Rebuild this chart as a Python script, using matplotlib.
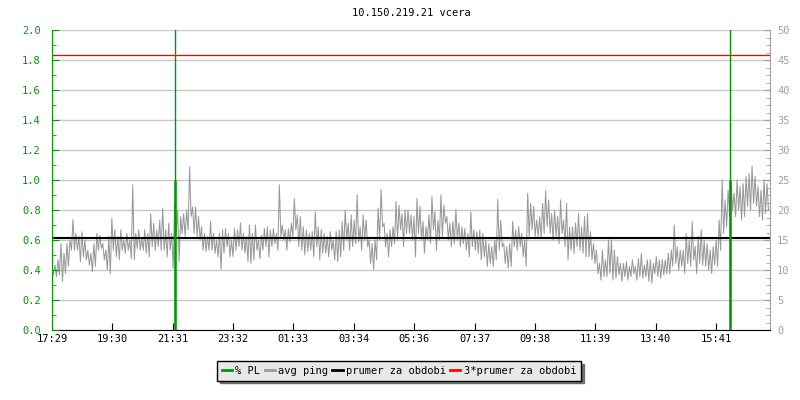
import numpy as np
import matplotlib
matplotlib.use("Agg")
import matplotlib.pyplot as plt
from matplotlib.ticker import MultipleLocator
from matplotlib.lines import Line2D

# =========================
# data
# =========================

title = "10.150.219.21 vcera"

tick_minutes = [0, 121, 242, 363, 484, 605, 727, 848, 969, 1090, 1211, 1332]
tick_labels = ["17:29", "19:30", "21:31", "23:32", "01:33", "03:34",
               "05:36", "07:37", "09:38", "11:39", "13:40", "15:41"]

column_step = 6  # minutes per column of the graph

# avg ping [ms]: upper and lower value in each 6-minute column
ping_hi = [
    10.5, 10.8, 11.7, 14.4, 12.8, 14.4, 15.0, 18.4, 16.1, 15.6,
    16.4, 15.0, 13.3, 12.8, 14.4, 16.1, 15.8, 14.4, 13.3, 15.6,
    18.6, 16.7, 15.6, 16.7, 15.0, 16.1, 15.0, 24.2, 16.1, 16.7,
    15.3, 16.7, 16.1, 19.4, 17.8, 16.7, 18.3, 20.3, 16.7, 17.8,
    16.1, 21.1, 20.0, 18.9, 19.4, 20.0, 27.2, 20.5, 20.5, 18.9,
    17.2, 16.1, 15.6, 18.1, 16.1, 15.0, 16.1, 16.7, 16.9, 16.1,
    15.0, 16.9, 16.7, 17.8, 16.1, 15.6, 17.5, 16.1, 17.5, 15.0,
    15.8, 16.9, 17.2, 16.7, 16.9, 16.1, 24.2, 17.5, 16.7, 16.9,
    17.8, 21.9, 19.2, 18.9, 17.2, 16.7, 16.1, 16.4, 19.7, 17.2,
    16.7, 16.1, 15.6, 16.4, 15.0, 16.4, 16.7, 18.1, 20.0, 17.8,
    19.2, 18.3, 22.5, 17.2, 19.2, 18.3, 15.0, 14.4, 15.0, 20.3,
    23.4, 17.8, 16.1, 16.7, 17.2, 21.4, 20.8, 19.4, 20.0, 20.0,
    19.2, 18.9, 21.9, 20.6, 18.1, 17.2, 19.2, 22.2, 19.7, 18.3,
    22.5, 20.8, 18.9, 17.8, 18.1, 20.1, 17.8, 17.2, 16.9, 16.1,
    19.7, 16.7, 16.4, 16.7, 16.1, 15.0, 14.4, 13.9, 15.0, 21.8,
    18.3, 14.4, 13.9, 14.4, 18.1, 16.7, 17.2, 16.1, 15.0, 22.8,
    21.1, 20.6, 18.3, 18.9, 21.1, 23.2, 21.7, 19.4, 20.0, 18.9,
    21.7, 18.3, 21.1, 17.2, 17.2, 17.8, 19.4, 17.2, 18.9, 19.4,
    16.4, 14.4, 13.3, 11.1, 13.3, 11.7, 15.0, 15.0, 13.3, 12.2,
    11.1, 11.1, 11.4, 10.6, 11.7, 10.6, 11.9, 12.8, 10.8, 11.7,
    11.7, 11.1, 12.2, 11.7, 11.7, 11.7, 12.8, 13.3, 17.5, 13.9,
    13.3, 13.3, 16.1, 15.0, 18.1, 13.9, 15.6, 16.7, 15.0, 14.4,
    13.3, 13.9, 15.0, 18.3, 25.0, 21.7, 23.3, 24.4, 22.8, 25.0,
    23.9, 24.4, 25.6, 26.1, 27.3, 25.6, 23.9, 23.3, 25.0, 24.4,
]
ping_lo = [
    9.2, 8.9, 9.2, 8.1, 9.4, 10.6, 13.3, 13.3, 13.3, 11.4,
    12.2, 11.7, 10.8, 9.7, 10.6, 13.3, 13.6, 11.7, 10.0, 9.4,
    13.3, 12.2, 11.7, 13.3, 12.8, 13.3, 11.9, 11.7, 13.6, 13.3,
    13.3, 12.8, 12.2, 13.9, 13.3, 13.9, 13.3, 13.3, 12.2, 13.3,
    10.3, 16.1, 11.4, 16.1, 15.6, 16.7, 18.9, 16.1, 15.6, 15.0,
    13.3, 13.1, 13.3, 13.3, 12.8, 12.2, 10.1, 12.8, 13.9, 12.2,
    12.2, 13.3, 13.9, 13.3, 12.8, 11.4, 11.1, 11.7, 13.3, 11.9,
    13.3, 13.9, 12.2, 13.9, 14.4, 13.3, 15.6, 15.0, 13.3, 14.7,
    15.6, 16.7, 13.9, 13.3, 12.5, 13.1, 13.3, 12.2, 13.9, 11.7,
    12.8, 12.8, 12.2, 13.3, 11.7, 11.4, 12.2, 13.3, 15.0, 13.3,
    13.9, 14.4, 14.7, 13.3, 15.0, 13.9, 11.1, 10.1, 11.7, 15.0,
    17.2, 13.9, 12.2, 13.9, 14.4, 15.0, 16.7, 13.9, 16.1, 16.1,
    15.0, 12.2, 16.1, 15.0, 12.8, 15.0, 14.4, 16.7, 13.3, 15.0,
    15.6, 17.8, 15.0, 13.9, 14.4, 15.0, 13.9, 14.4, 13.3, 12.2,
    13.9, 13.3, 12.8, 11.7, 12.2, 10.6, 11.1, 10.6, 11.7, 13.3,
    13.9, 11.1, 10.3, 10.6, 13.9, 13.3, 13.9, 12.2, 10.6, 15.6,
    16.7, 15.6, 15.6, 15.3, 16.1, 17.2, 16.1, 15.0, 15.6, 14.4,
    16.1, 13.9, 11.7, 13.3, 12.8, 13.9, 13.3, 12.8, 12.2, 12.2,
    11.7, 11.1, 9.4, 8.3, 8.9, 8.9, 9.4, 8.3, 8.6, 9.2,
    8.1, 8.9, 8.3, 8.9, 9.4, 8.3, 8.9, 8.6, 8.9, 8.1,
    7.8, 9.4, 8.9, 8.6, 9.2, 9.4, 9.4, 10.6, 11.1, 10.0,
    10.6, 9.4, 11.1, 10.6, 11.7, 9.4, 11.1, 10.8, 10.6, 10.0,
    9.4, 10.8, 10.6, 13.3, 16.1, 17.2, 18.9, 20.0, 18.9, 20.0,
    18.3, 18.9, 20.6, 20.0, 21.1, 20.6, 18.9, 18.3, 19.4, 20.0,
]

ping_mean = 15.3  # prumer za obdobi [ms]

# packet loss [%], two events
pl_minutes = [246, 1359]
pl_values = [1.0, 1.0]

# =========================
# colours
# =========================

green = "#009900"
grey_line = "#999999"
grey_axis = "#a0a0a0"
grid_col = "#c8c8c8"

plt.rcParams["font.family"] = ["DejaVu Sans Mono"]
plt.rcParams["font.size"] = 7.5

fig = plt.figure(figsize=(8, 4), dpi=100)
ax2 = fig.add_axes([52 / 800, 70 / 400, 718 / 800, 300 / 400])
ax = ax2.twinx()
ax.set_zorder(ax2.get_zorder() + 1)
ax.patch.set_visible(False)

# hi / lo samples interleaved -> spiky trace
ping = np.column_stack([ping_hi, ping_lo]).ravel()
t = np.arange(len(ping)) * column_step / 2

# avg ping on right axis
ax2.plot(t, ping, color=grey_line, lw=0.75)
ax2.axhline(ping_mean, color="black", lw=1.5)
ax2.axhline(3 * ping_mean, color="red", lw=0.9)
ax2.set_ylim(0, 50)
ax2.set_xlim(0, 1440)
ax2.yaxis.set_major_locator(MultipleLocator(5))
ax2.yaxis.set_minor_locator(MultipleLocator(1.25))
ax2.grid(axis="y", color=grid_col, lw=1)
ax2.set_axisbelow(True)

# packet loss on left axis
for m, v in zip(pl_minutes, pl_values):
    ax.axvline(m, color=green, lw=1.0)
    ax.vlines(m, 0, v, color=green, lw=1.8)
ax.set_ylim(0, 2)
ax.yaxis.set_minor_locator(MultipleLocator(0.1))

# PL left, ping right
ax.yaxis.tick_left()
ax2.yaxis.tick_right()

ax.set_yticks(np.arange(0, 2.01, 0.2))
ax.set_yticklabels([f"{v:.1f}" for v in np.arange(0, 2.01, 0.2)])
ax2.set_yticks(np.arange(0, 51, 5))

ax.tick_params(axis="y", which="both", direction="in", colors=green,
               labelcolor=green, pad=8)
ax.tick_params(axis="y", which="major", length=5)
ax.tick_params(axis="y", which="minor", length=3)
ax2.tick_params(axis="y", which="both", direction="in", colors=grey_axis,
                labelcolor=grey_axis, pad=5)
ax2.tick_params(axis="y", which="major", length=4)
ax2.tick_params(axis="y", which="minor", length=3)

ax2.set_xticks(tick_minutes)
ax2.set_xticklabels(tick_labels)
ax2.tick_params(axis="x", direction="in", length=5, pad=3)
ax.tick_params(axis="x", bottom=False, labelbottom=False)

for a in (ax, ax2):
    a.spines["top"].set_visible(False)
ax.spines["left"].set_color(green)
ax.spines["right"].set_visible(False)
ax.spines["bottom"].set_visible(False)
ax2.spines["left"].set_visible(False)
ax2.spines["right"].set_color(grey_axis)
ax2.spines["bottom"].set_color("black")

fig.text(411 / 800, 1 - 13 / 400, title, ha="center", va="center")

handles = [
    Line2D([], [], color=green, lw=2),
    Line2D([], [], color=grey_line, lw=2),
    Line2D([], [], color="black", lw=2),
    Line2D([], [], color="red", lw=2),
]
labels = ["% PL", "avg ping", "prumer za obdobi", "3*prumer za obdobi"]
leg = fig.legend(handles, labels, loc="center", ncol=4,
                 bbox_to_anchor=(399 / 800, 1 - 371 / 400),
                 frameon=True, fancybox=False,
                 shadow={"color": "#707070", "alpha": 1},
                 handlelength=1.0, handletextpad=0.3, columnspacing=0.4,
                 borderpad=0.45, borderaxespad=0)
leg.get_frame().set_facecolor("#e8e8e8")
leg.get_frame().set_edgecolor("black")
leg.get_frame().set_linewidth(1.0)
leg.get_frame().set_alpha(1)

fig.savefig("out.png", dpi=100)
